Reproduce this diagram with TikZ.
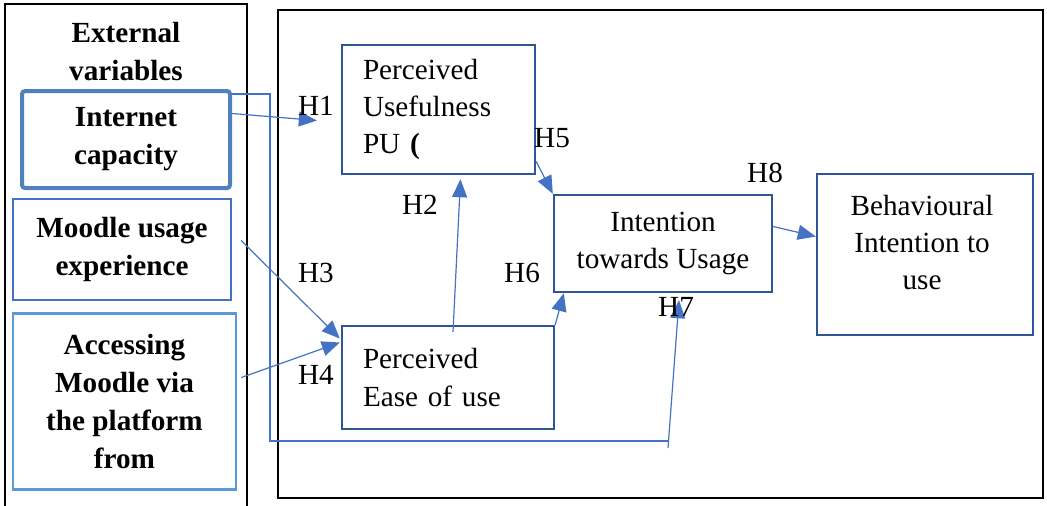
\documentclass[tikz,border=0pt]{standalone}
\usepackage{fontspec}
\setmainfont{Liberation Serif}
\usetikzlibrary{calc,arrows.meta}

\definecolor{arrowblue}{HTML}{4472C4}
\definecolor{boxblue}{HTML}{2F5597}
\definecolor{capblue}{HTML}{4F81BD}
\definecolor{lightblue}{HTML}{5B9BD5}

\begin{document}
\begin{tikzpicture}[x=0.5pt, y=-0.5pt,
    varbox/.style={draw, font=\fontsize{14.6}{19}\selectfont\bfseries, align=center, inner sep=0pt},
    modelbox/.style={draw=boxblue, line width=1.2pt, font=\fontsize{14.6}{18.7}\selectfont, inner sep=0pt},
    hyp/.style={font=\fontsize{14.6}{18.7}\selectfont, inner sep=0pt},
    arr/.style={draw=arrowblue, line width=0.6pt, -{Triangle[length=9pt,width=7.5pt]}},
    link/.style={draw=arrowblue, line width=0.6pt}]
	\useasboundingbox (0,0) rectangle (1047,505);

	% frames
	\draw[line width=1pt] (5,512) -- (5,4) -- (247,4) -- (247,512);
	\draw[line width=1pt] (278,10) rectangle (1043,498);

	% external variables
	\node[varbox, draw=none] (ext) at (126,52) {External\\variables};
	\node[varbox, draw=capblue, line width=2pt, rounded corners=1.5pt, minimum width=104pt, minimum height=48.5pt] (ic) at (126,139.5) {Internet\\capacity};
	\node[varbox, draw=arrowblue, line width=1.2pt, minimum width=109pt, minimum height=50.5pt] (mue) at (122,249.5) {Moodle usage\\experience};
	\node[varbox, draw=lightblue, line width=1.3pt, minimum width=111.5pt, minimum height=88pt] (amp) at (124.5,401.5) {Accessing\\Moodle via\\the platform\\from};

	% model
	\node[modelbox, align=left, text width=75.5pt, inner xsep=10.5pt, minimum height=64.5pt] (pu) at (438.5,109.5) {Perceived\\Usefulness\\PU \textbf{(}};
	\node[modelbox, align=left, text width=85pt, inner xsep=10.5pt, minimum height=51.5pt] (peou) at (448,377.5) {Perceived\\Ease of use};
	\node[modelbox, align=center, minimum width=109pt, minimum height=48.5pt] (ti) at (663,243.5) {Intention\\towards Usage};
	\node[modelbox, minimum width=108pt, minimum height=80.5pt,
		label={[hyp, align=center, yshift=6pt, xshift=-1.5pt]center:{Behavioural\\Intention to\\use}}] (bi) at (925,254.5) {};

	% paths
	\draw[arr] ($(ic.east)+(0,-26)$) -- ($(pu.west)+(-24,11)$);
	\coordinate (h7foot) at (668,441);
	\draw[link] ($(ic.north east)+(0,5)$) -- ++(38,0) |- (h7foot);
	\draw[arr] ($(h7foot)+(0,7)$) -- ($(ti.south)+(16,7)$);
	\draw[arr] ($(mue.east)+(9,-9)$) -- ($(peou.west)+(-1,-39)$);
	\draw[arr] ($(amp.east)+(4,-24)$) -- ($(peou.west)+(-1,-35)$);
	\draw[arr] ($(peou.north)+(5,7)$) -- ($(pu.south)+(22,4)$);
	\draw[arr] ($(pu.east)+(0,52)$) -- (ti.north west);
	\draw[arr] (peou.north east) -- ($(ti.south west)+(11,0)$);
	\draw[arr] ($(ti.east)+(0,-17)$) -- ($(bi.west)+(0,-18)$);

	% hypotheses
	\node[hyp] (h1) at (316,106) {H1};
	\node[hyp] (h2) at (420,205) {H2};
	\node[hyp] (h3) at (316,273) {H3};
	\node[hyp] (h4) at (316,375) {H4};
	\node[hyp] (h5) at (552,138) {H5};
	\node[hyp] (h6) at (522,273) {H6};
	\node[hyp] (h7) at (676,307) {H7};
	\node[hyp] (h8) at (765,173) {H8};
\end{tikzpicture}
\end{document}
